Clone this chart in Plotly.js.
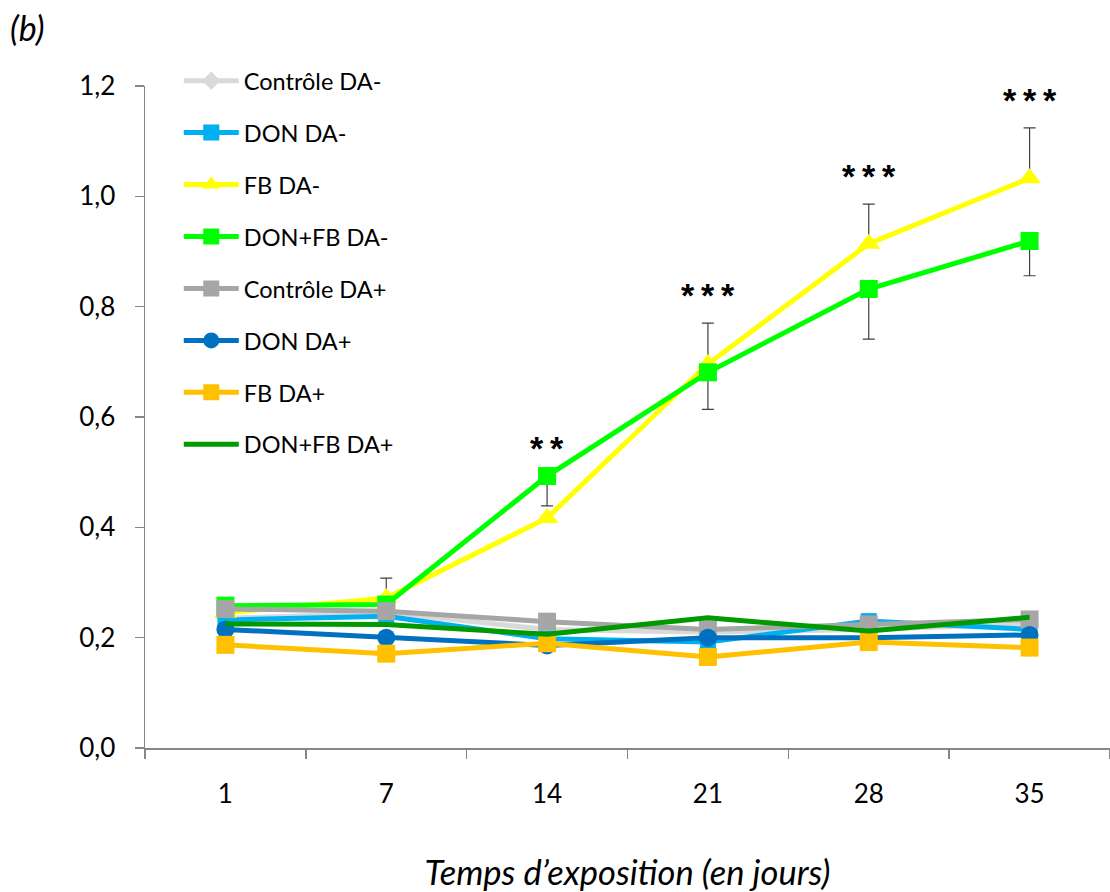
<!DOCTYPE html>
<html>
<head>
<meta charset="utf-8">
<script src="https://cdn.plot.ly/plotly-3.0.1.min.js"></script>
<style>html,body{margin:0;padding:0;background:#fff;}#chart{width:1110px;height:892px;}</style>
</head>
<body>
<div id="chart"></div>
<script>
// Categories (days of exposure)
const days = ['1', '7', '14', '21', '28', '35'];

// Series values
const controleDAm = [0.235, 0.245, 0.215, 0.210, 0.215, 0.225];
const donDAm      = [0.232, 0.239, 0.198, 0.192, 0.230, 0.215];
const fbDAm       = [0.245, 0.272, 0.417, 0.696, 0.914, 1.033];
const donfbDAm    = [0.258, 0.260, 0.493, 0.681, 0.832, 0.919];
const controleDAp = [0.252, 0.248, 0.229, 0.215, 0.224, 0.233];
const donDAp      = [0.215, 0.200, 0.186, 0.200, 0.200, 0.205];
const fbDAp       = [0.187, 0.171, 0.190, 0.165, 0.192, 0.182];
const donfbDAp    = [0.225, 0.224, 0.206, 0.236, 0.212, 0.237];

// Error bars (upper for FB DA-, lower for DON+FB DA-)
const fbDAmErrPlus     = [0, 0.036, 0, 0.074, 0.072, 0.091];
const donfbDAmErrMinus = [0, 0, 0.054, 0.067, 0.091, 0.063];

// Significance labels
const sigLabels = ['', '', '**', '***', '***', '***'];

const FONT = 'Lato, Liberation Sans, Arial, sans-serif';
const FONT2 = 'Liberation Sans, Arial, sans-serif';

const series = [
  {name: 'Contrôle DA-', y: controleDAm, color: '#D9D9D9', symbol: 'diamond', size: 14},
  {name: 'DON DA-', y: donDAm, color: '#00B0F0', symbol: 'square', size: 16},
  {name: 'FB DA-', y: fbDAm, color: '#FFFF00', symbol: 'triangle-up', size: 20,
   err: {type: 'data', symmetric: false, array: fbDAmErrPlus, arrayminus: days.map(() => 0)}},
  {name: 'DON+FB DA-', y: donfbDAm, color: '#00FF00', symbol: 'square', size: 18,
   err: {type: 'data', symmetric: false, array: days.map(() => 0), arrayminus: donfbDAmErrMinus}},
  {name: 'Contrôle DA+', y: controleDAp, color: '#A6A6A6', symbol: 'square', size: 18},
  {name: 'DON DA+', y: donDAp, color: '#0070C0', symbol: 'circle', size: 18},
  {name: 'FB DA+', y: fbDAp, color: '#FFC000', symbol: 'square', size: 18},
  {name: 'DON+FB DA+', y: donfbDAp, color: '#009A00', symbol: null, size: 0}
];

const traces = series.map((s, i) => {
  const t = {
    type: 'scatter',
    x: days,
    y: s.y,
    name: s.name,
    legendgroup: 'g' + i,
    mode: s.symbol ? 'lines+markers' : 'lines',
    line: {color: s.color, width: 5},
    cliponaxis: false
  };
  if (s.symbol) t.marker = {symbol: s.symbol, size: s.size, color: s.color};
  if (s.err) t.error_y = Object.assign({color: '#404040', thickness: 1.2, width: 6}, s.err);
  return t;
});

// Significance annotations placed above the highest point / error bar top
const annotations = [];
sigLabels.forEach((lab, i) => {
  if (!lab) return;
  const top = Math.max(fbDAm[i] + fbDAmErrPlus[i], donfbDAm[i]);
  annotations.push({
    x: i, y: top, xref: 'x', yref: 'y',
    text: '<b>' + lab.split('').join('\u2009') + '</b>',
    showarrow: false, yanchor: 'bottom', yshift: 7,
    font: {family: FONT2, size: 34, color: '#000'}
  });
});

annotations.push({
  x: -137 / 965, y: (748 - 28) / 662, xref: 'paper', yref: 'paper',
  xanchor: 'left', yanchor: 'middle',
  text: '<i>(b)</i>', showarrow: false,
  font: {family: FONT, size: 34, color: '#000'}
});

const layout = {
  width: 1110, height: 892,
  margin: {l: 145, r: 0, t: 86, b: 144},
  paper_bgcolor: '#fff', plot_bgcolor: '#fff',
  separators: ',.',
  font: {family: FONT, size: 25, color: '#000'},
  showlegend: true,
  legend: {
    x: 0.035, y: 1.041, xanchor: 'left', yanchor: 'top',
    bgcolor: 'rgba(0,0,0,0)',
    font: {family: FONT, size: 23.5, color: '#000'},
    tracegroupgap: 18.4,
    itemwidth: 55
  },
  xaxis: {
    type: 'category',
    range: [-0.5, 5.5],
    showline: true, linecolor: '#868686', linewidth: 1.5,
    ticks: 'outside', tickson: 'boundaries', ticklen: 9, tickcolor: '#868686', tickwidth: 1.5,
    ticklabelstandoff: 22,
    showgrid: false, zeroline: false,
    tickfont: {family: FONT, size: 26},
    title: {text: '<i>Temps d\u2019exposition (en jours)</i>', font: {family: FONT, size: 34.5}, standoff: 55}
  },
  yaxis: {
    range: [0, 1.2],
    dtick: 0.2, tickformat: '.1f',
    showline: true, linecolor: '#868686', linewidth: 1.5,
    ticks: 'outside', ticklen: 9, tickcolor: '#868686', tickwidth: 1.5,
    ticklabelstandoff: 14,
    showgrid: false, zeroline: false,
    tickfont: {family: FONT, size: 26}
  },
  annotations: annotations
};

Plotly.newPlot('chart', traces, layout, {displayModeBar: false, staticPlot: true});
</script>
</body>
</html>
